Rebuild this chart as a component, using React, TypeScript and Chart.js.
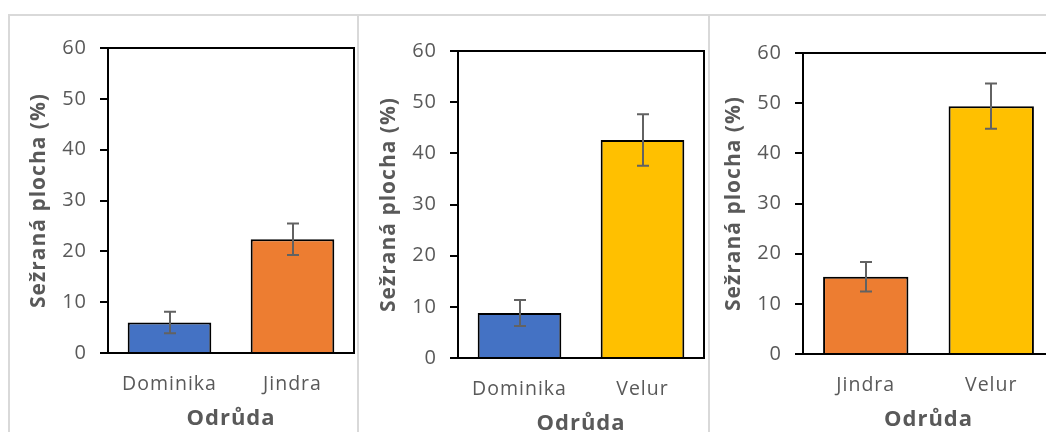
import React, { useEffect, useRef } from 'react';
import { Chart, registerables } from 'chart.js';

Chart.register(...registerables);

// ---- data ----
const panel1Categories = ['Dominika', 'Jindra'];
const panel1Values = [6.0, 22.4];
const panel1Errors = [2.1, 3.1];

const panel2Categories = ['Dominika', 'Velur'];
const panel2Values = [8.8, 42.6];
const panel2Errors = [2.55, 5.05];

const panel3Categories = ['Jindra', 'Velur'];
const panel3Values = [15.4, 49.4];
const panel3Errors = [2.95, 4.5];

const yTickLabels = [0, 10, 20, 30, 40, 50, 60];
const yAxisTitle = 'Sežraná plocha (%)';
const xAxisTitle = 'Odrůda';

// ---- styles ----
const varietyColors: Record<string, string> = {
  Dominika: '#4472C4',
  Jindra: '#ED7D31',
  Velur: '#FFC000',
};
const textGray = '#595959';
const FONT = "'Open Sans', 'Noto Sans', sans-serif";
const LETTER_SPACING = '1px';

// ---- layout (plot areas in page pixels) ----
const Y_AXIS_W = 99;
const TOP_PAD = 32;
const RIGHT_PAD = 4;
const X_AXIS_H = 79;

const panelLayouts = [
  { left: 108, top: 48, width: 246, height: 305 },
  { left: 458, top: 51, width: 246, height: 307 },
  { left: 803, top: 53, width: 251, height: 301 },
];

const spacingPlugin = {
  id: 'letterSpacing',
  beforeLayout(chart: any) {
    chart.ctx.letterSpacing = LETTER_SPACING;
  },
  beforeDraw(chart: any) {
    chart.ctx.letterSpacing = LETTER_SPACING;
  },
};

const boxPlugin = {
  id: 'plotBox',
  afterDatasetsDraw(chart: any) {
    const { ctx, chartArea } = chart;
    ctx.save();
    ctx.strokeStyle = '#000';
    ctx.lineWidth = 2;
    ctx.strokeRect(chartArea.left, chartArea.top, chartArea.right - chartArea.left, chartArea.bottom - chartArea.top);
    ctx.restore();
  },
};

const errorBarPlugin = {
  id: 'errorBars',
  afterDraw(chart: any, _args: any, opts: any) {
    const errs: number[] = opts.errors || [];
    const vals = chart.data.datasets[0].data as number[];
    const xs = chart.scales.x;
    const ys = chart.scales.y;
    const ctx = chart.ctx;
    ctx.save();
    ctx.strokeStyle = '#626262';
    ctx.lineWidth = 2;
    vals.forEach((v, i) => {
      const px = Math.round(xs.getPixelForValue(i));
      const top = ys.getPixelForValue(v + errs[i]);
      const bot = ys.getPixelForValue(v - errs[i]);
      ctx.beginPath();
      ctx.moveTo(px, top);
      ctx.lineTo(px, bot);
      ctx.moveTo(px - 6, top);
      ctx.lineTo(px + 6, top);
      ctx.moveTo(px - 6, bot);
      ctx.lineTo(px + 6, bot);
      ctx.stroke();
    });
    ctx.restore();
  },
};

function Panel(props: { categories: string[]; values: number[]; errors: number[]; layout: { left: number; top: number; width: number; height: number } }) {
  const ref = useRef<HTMLCanvasElement | null>(null);
  const { categories, values, errors, layout } = props;
  const cw = Y_AXIS_W + layout.width + RIGHT_PAD;
  const ch = TOP_PAD + layout.height + X_AXIS_H;

  useEffect(() => {
    if (!ref.current) return;
    const chart = new Chart(ref.current, {
      type: 'bar',
      data: {
        labels: categories,
        datasets: [
          {
            data: values,
            backgroundColor: categories.map((c) => varietyColors[c]),
            borderColor: '#000',
            borderWidth: 2,
            borderSkipped: 'start',
            barPercentage: 0.68,
            categoryPercentage: 1,
          },
        ],
      },
      options: {
        responsive: false,
        animation: false,
        devicePixelRatio: 1,
        layout: { padding: { left: 0, top: TOP_PAD, right: RIGHT_PAD, bottom: 0 } },
        plugins: {
          legend: { display: false },
          tooltip: { enabled: false },
          errorBars: { errors },
        } as any,
        scales: {
          x: {
            grid: { display: false, drawTicks: false },
            border: { display: false },
            ticks: { color: textGray, font: { family: FONT, size: 19.5 }, padding: 20 },
            title: {
              display: true,
              text: xAxisTitle,
              color: textGray,
              font: { family: FONT, size: 22, weight: 'bold' },
              padding: { top: 0, bottom: 0 },
            },
            afterFit: (s: any) => {
              s.height = X_AXIS_H;
            },
          },
          y: {
            min: yTickLabels[0],
            max: yTickLabels[yTickLabels.length - 1],
            ticks: {
              stepSize: yTickLabels[1] - yTickLabels[0],
              color: textGray,
              font: { family: FONT, size: 20 },
              padding: 13,
            },
            grid: { display: true, drawOnChartArea: false, drawTicks: true, tickLength: 8, color: '#000', lineWidth: 2 },
            border: { display: false },
            title: {
              display: true,
              text: yAxisTitle,
              color: textGray,
              font: { family: FONT, size: 21, weight: 'bold' },
              padding: { top: 17, bottom: 0 },
            },
            afterFit: (s: any) => {
              s.width = Y_AXIS_W;
            },
          },
        },
      },
      plugins: [spacingPlugin, boxPlugin, errorBarPlugin],
    } as any);
    return () => chart.destroy();
  }, []);

  return (
    <canvas
      ref={ref}
      width={cw}
      height={ch}
      style={{
        position: 'absolute',
        left: layout.left - Y_AXIS_W,
        top: layout.top - TOP_PAD,
        width: cw,
        height: ch,
      }}
    />
  );
}

export default function App() {
  const line = '#d9d9d9';
  return (
    <div style={{ position: 'fixed', left: 0, top: 0, width: 1046, height: 432, overflow: 'hidden', background: '#fff' }}>
      <div style={{ position: 'absolute', left: 8, top: 14, width: 1100, height: 2, background: line }} />
      <div style={{ position: 'absolute', left: 8, top: 14, width: 2, height: 430, background: line }} />
      <div style={{ position: 'absolute', left: 357, top: 14, width: 2, height: 430, background: line }} />
      <div style={{ position: 'absolute', left: 708, top: 14, width: 2, height: 430, background: line }} />
      <Panel categories={panel1Categories} values={panel1Values} errors={panel1Errors} layout={panelLayouts[0]} />
      <Panel categories={panel2Categories} values={panel2Values} errors={panel2Errors} layout={panelLayouts[1]} />
      <Panel categories={panel3Categories} values={panel3Values} errors={panel3Errors} layout={panelLayouts[2]} />
    </div>
  );
}
